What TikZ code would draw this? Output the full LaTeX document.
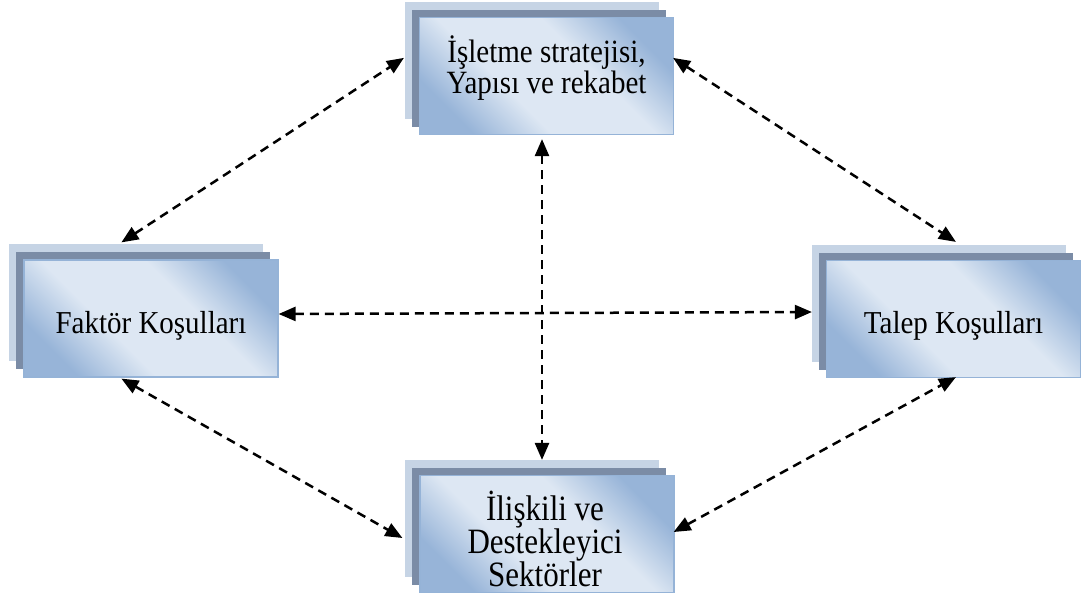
\documentclass[tikz,border=0pt]{standalone}
\usepackage{fontspec}
\usepackage{graphicx}
\setmainfont{Liberation Serif}
\usetikzlibrary{arrows.meta,shadows}

\definecolor{backlayer}{HTML}{C6D4E5}
\definecolor{midlayer}{HTML}{7B8CA6}
\definecolor{edgeblue}{HTML}{95B3D7}
\definecolor{shadedark}{HTML}{97B4D8}
\definecolor{shadelight}{HTML}{DDE7F3}

% diagonal sheen: dark corners, wide light band through the middle
\pgfdeclareverticalshading{boxsheen}{100bp}{%
  color(0bp)=(shadedark); color(25bp)=(shadedark);
  color(40bp)=(shadelight); color(60bp)=(shadelight);
  color(75bp)=(shadedark); color(100bp)=(shadedark)}

% centred lines, stretched slightly in height
\newcommand\boxlines[2]{%
  \scalebox{1}[#1]{\begin{tabular}[t]{@{}c@{}}#2\end{tabular}}}

\tikzset{
  stackbox/.style={
    rectangle, minimum width=254pt, minimum height=117pt, inner sep=0pt,
    draw=edgeblue, line width=1.2pt,
    shade, shading=boxsheen, shading angle=-45,
    general shadow={shadow xshift=-15pt, shadow yshift=16pt, fill=backlayer},
    general shadow={shadow xshift=-8pt, shadow yshift=8pt, fill=midlayer}
  },
  boxtext/.style={inner sep=0pt, anchor=base, text=black,
    font=\fontsize{29}{25}\selectfont},
  bigtext/.style={boxtext, font=\fontsize{31}{24}\selectfont},
  link/.style={
    draw=black, line width=2.5pt, dash pattern=on 9pt off 6pt,
    {Triangle[length=17pt,width=14pt]}-{Triangle[length=17pt,width=14pt]}
  }
}

\begin{document}
\begin{tikzpicture}[x=1pt, y=-1pt]
  \useasboundingbox (0,0) rectangle (1083,597);

  % four stacked boxes
  \node[stackbox] (strat) at (546.5,76) {};
  \node[stackbox] (factor) at (151,318.5) {};
  \node[stackbox] (demand) at (953.5,319) {};
  \node[stackbox] (related) at (547,534) {};

  % box captions
  \node[boxtext] (strat-t) at ([yshift=-46pt]strat.north)
    {\boxlines{1.12}{İşletme stratejisi,\\Yapısı ve rekabet}};
  \node[boxtext] (factor-t) at ([yshift=-74pt]factor.north)
    {\boxlines{1.1}{Faktör Koşulları}};
  \node[boxtext] (demand-t) at ([yshift=-74pt]demand.north)
    {\boxlines{1.1}{Talep Koşulları}};
  \node[bigtext] (related-t) at ([xshift=-2pt,yshift=-46pt]related.north)
    {\boxlines{1.15}{İlişkili ve\\Destekleyici\\Sektörler}};

  % two-way links between the boxes
  \draw[link] ([xshift=98pt,yshift=17pt]factor.north west) -- ([xshift=-15pt,yshift=-41pt]strat.north west);
  \draw[link] ([xshift=-1pt,yshift=-41pt]strat.north east) -- ([xshift=130pt,yshift=18pt]demand.north west);
  \draw[link] ([yshift=4.5pt]factor.east) -- ([xshift=-14pt,yshift=7pt]demand.west);
  \draw[link] ([xshift=-4.5pt,yshift=-4pt]strat.south) -- ([xshift=-5pt,yshift=15pt]related.north);
  \draw[link] ([xshift=98pt,yshift=-1pt]factor.south west) -- ([xshift=-17pt,yshift=-4pt]related.west);
  \draw[link] ([xshift=-1pt,yshift=2pt]related.east) -- ([xshift=130pt,yshift=1pt]demand.south west);
\end{tikzpicture}
\end{document}
